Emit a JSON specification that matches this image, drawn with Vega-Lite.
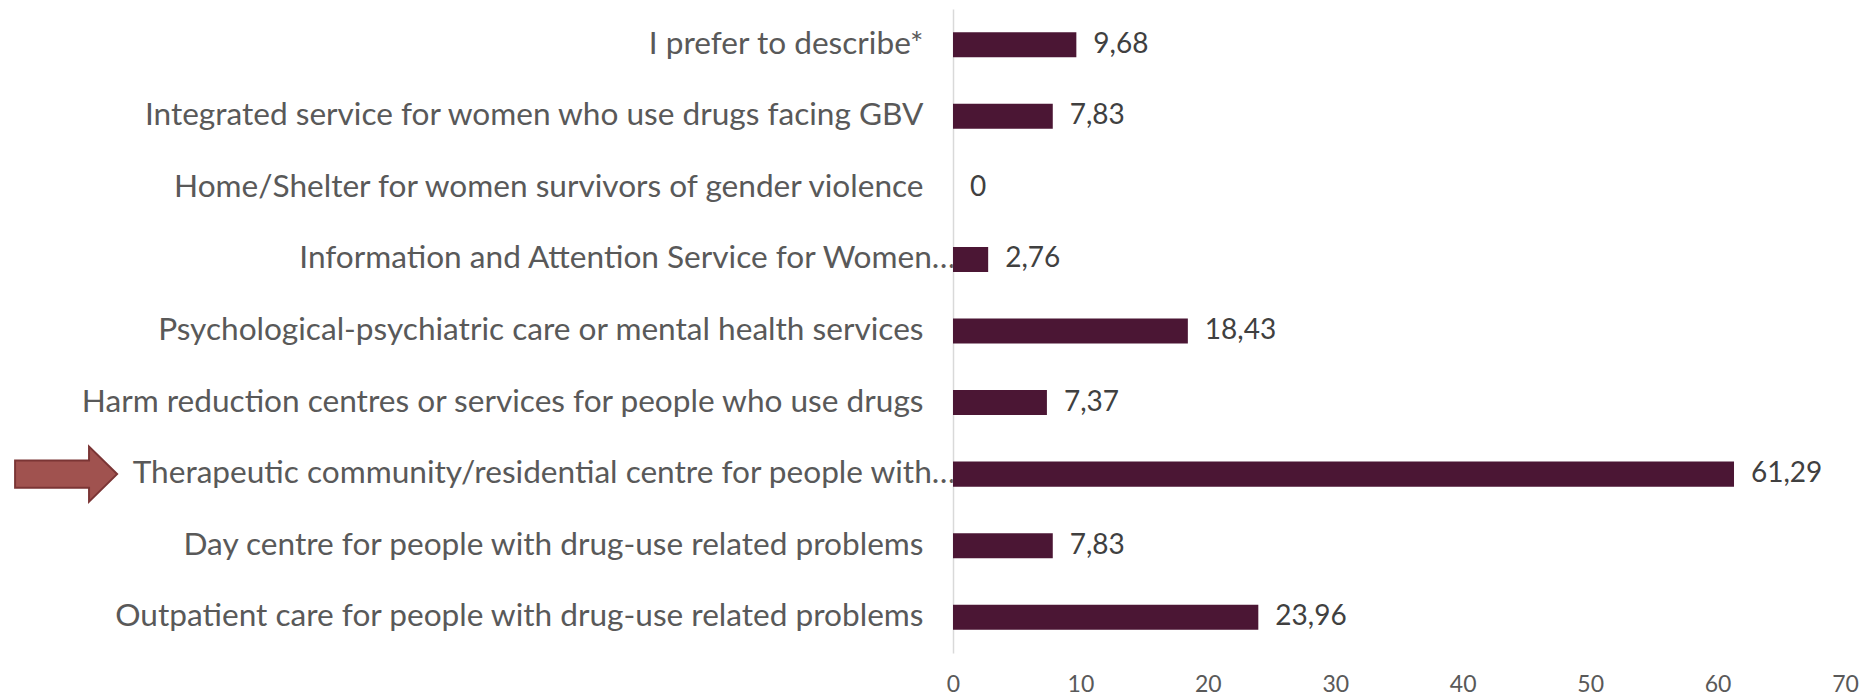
{
  "$schema": "https://vega.github.io/schema/vega-lite/v6.json",
  "autosize": "none",
  "width": 892,
  "height": 644,
  "padding": {"left": 953, "top": 9, "right": 15, "bottom": 42},
  "background": "white",
  "config": {
    "view": {"stroke": null},
    "locale": {"number": {"decimal": ",", "thousands": ".", "grouping": [3], "currency": ["", " €"]}}
  },
  "data": {
    "values": [
      {"category": "I prefer to describe*", "value": 9.68, "highlight": false},
      {"category": "Integrated service for women who use drugs facing GBV", "value": 7.83, "highlight": false},
      {"category": "Home/Shelter for women survivors of gender violence", "value": 0, "highlight": false},
      {"category": "Information and Attention Service for Women…", "value": 2.76, "highlight": false},
      {"category": "Psychological-psychiatric care or mental health services", "value": 18.43, "highlight": false},
      {"category": "Harm reduction centres or services for people who use drugs", "value": 7.37, "highlight": false},
      {"category": "Therapeutic community/residential centre for people with…", "value": 61.29, "highlight": true},
      {"category": "Day centre for people with drug-use related problems", "value": 7.83, "highlight": false},
      {"category": "Outpatient care for people with drug-use related problems", "value": 23.96, "highlight": false}
    ]
  },
  "encoding": {
    "y": {
      "field": "category",
      "type": "nominal",
      "sort": null,
      "scale": {"paddingInner": 0.65, "paddingOuter": 0.325},
      "axis": {
        "title": null,
        "ticks": false,
        "domainColor": "#D9D9D9",
        "domainWidth": 1.5,
        "labelFont": "Lato",
        "labelFontSize": 31.6,
        "labelColor": "#595959",
        "labelLimit": 1200,
        "labelPadding": {"condition": {"test": "indexof(datum.label, '…') >= 0", "value": -2}, "value": 30}
      }
    }
  },
  "layer": [
    {
      "mark": {"type": "bar", "color": "#4B1634"},
      "encoding": {
        "x": {
          "field": "value",
          "type": "quantitative",
          "scale": {"domain": [0, 70], "nice": false},
          "axis": {
            "title": null,
            "grid": false,
            "domain": false,
            "ticks": false,
            "values": [0, 10, 20, 30, 40, 50, 60, 70],
            "labelFont": "Lato",
            "labelFontSize": 23,
            "labelColor": "#595959",
            "labelPadding": 20,
            "labelFlush": false
          }
        }
      }
    },
    {
      "mark": {"type": "text", "align": "left", "baseline": "middle", "dx": 17, "font": "Lato", "fontSize": 28, "color": "#404040"},
      "encoding": {
        "x": {"field": "value", "type": "quantitative"},
        "text": {"field": "value", "type": "quantitative", "format": ".2~f"}
      }
    },
    {
      "transform": [{"filter": "datum.highlight"}],
      "mark": {
        "type": "point",
        "shape": "M-1,-0.265L0.45,-0.265L0.45,-0.54L1,0L0.45,0.54L0.45,0.265L-1,0.265Z",
        "filled": true,
        "fill": "#A0524F",
        "stroke": "#7B3535",
        "strokeWidth": 2,
        "opacity": 1,
        "size": 10404
      },
      "encoding": {
        "x": {"datum": -69.6, "type": "quantitative"}
      }
    }
  ]
}
